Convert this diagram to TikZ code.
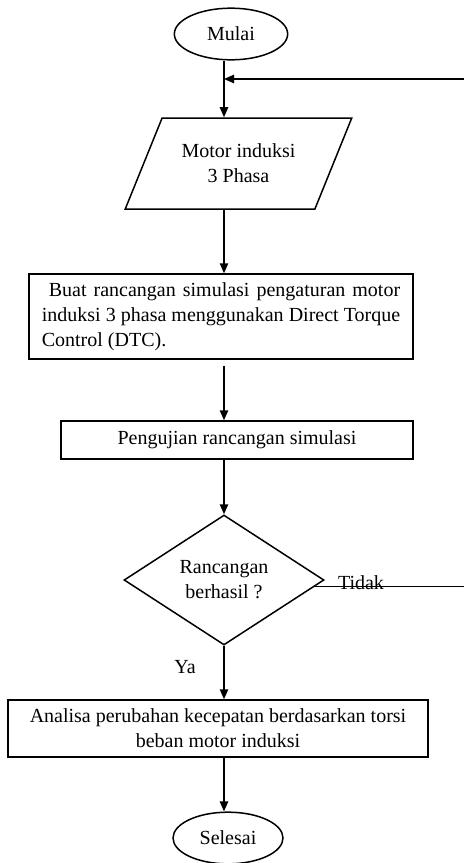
\documentclass[tikz,border=0pt]{standalone}
\usepackage{fontspec}
\setmainfont{Liberation Serif}
\usetikzlibrary{shapes.geometric,arrows.meta}
\begin{document}
\begin{tikzpicture}[x=0.6pt, y=-0.6pt, line width=0.9pt,
    font=\fontsize{12}{15}\selectfont,
    panah/.style={-{Triangle[length=6pt,width=5pt]}},
    terminal/.style={draw, ellipse, minimum width=68pt, minimum height=31pt, inner sep=0pt},
    kotak/.style={draw, rectangle, inner sep=0pt},
    io/.style={draw, trapezium, trapezium left angle=59, trapezium right angle=121,
      trapezium stretches=true, minimum width=136pt, minimum height=54.6pt, align=center},
    putusan/.style={draw, diamond, minimum width=120pt, minimum height=78pt, inner sep=0pt, align=center}]
  \useasboundingbox (0,0) rectangle (464,863);

  \node[terminal] (mulai) at (231,34) {Mulai};
  \node[io] (motor) at (238.5,163.5) {Motor induksi\\3 Phasa};
  \node[kotak, minimum width=230.4pt, minimum height=51pt, inner xsep=7.7pt,
    text width=215pt, align=justify] (rancang) at (221,316.5)
    {\ Buat rancangan simulasi pengaturan motor\linebreak induksi 3 phasa menggunakan Direct Torque\linebreak Control (DTC).};
  \node[kotak, minimum width=211.2pt, minimum height=22.8pt] (uji) at (237,440) {Pengujian rancangan simulasi};
  \node[putusan] (cek) at (224,580) {Rancangan\\berhasil ?};
  \node[kotak, minimum width=252pt, minimum height=34.2pt, align=center] (analisa) at (218,728.5)
    {Analisa perubahan kecepatan berdasarkan torsi\\beban motor induksi};
  \node[terminal, minimum width=66pt] (selesai) at (228,838) {Selesai};
  \node (tidak) at (361,583) {Tidak};
  \node (ya) at (185,667) {Ya};
  \coordinate (balik) at (224,79);
  \coordinate (tepi) at (470,79);

  \draw[panah] (mulai.south -| cek) -- (motor.north -| cek);
  \draw[panah] (motor.south -| cek) -- (rancang.north -| cek);
  \draw[panah, shorten <=3.5pt] (rancang.south -| cek) -- (uji.north -| cek);
  \draw[panah] (uji.south -| cek) -- (cek.north);
  \draw[panah] (cek.south) -- (analisa.north -| cek);
  \draw[panah] (analisa.south -| cek) -- (selesai.north -| cek);

  \draw[panah] (cek.-4) -- (cek.-4 -| tepi) |- (balik);
\end{tikzpicture}
\end{document}
